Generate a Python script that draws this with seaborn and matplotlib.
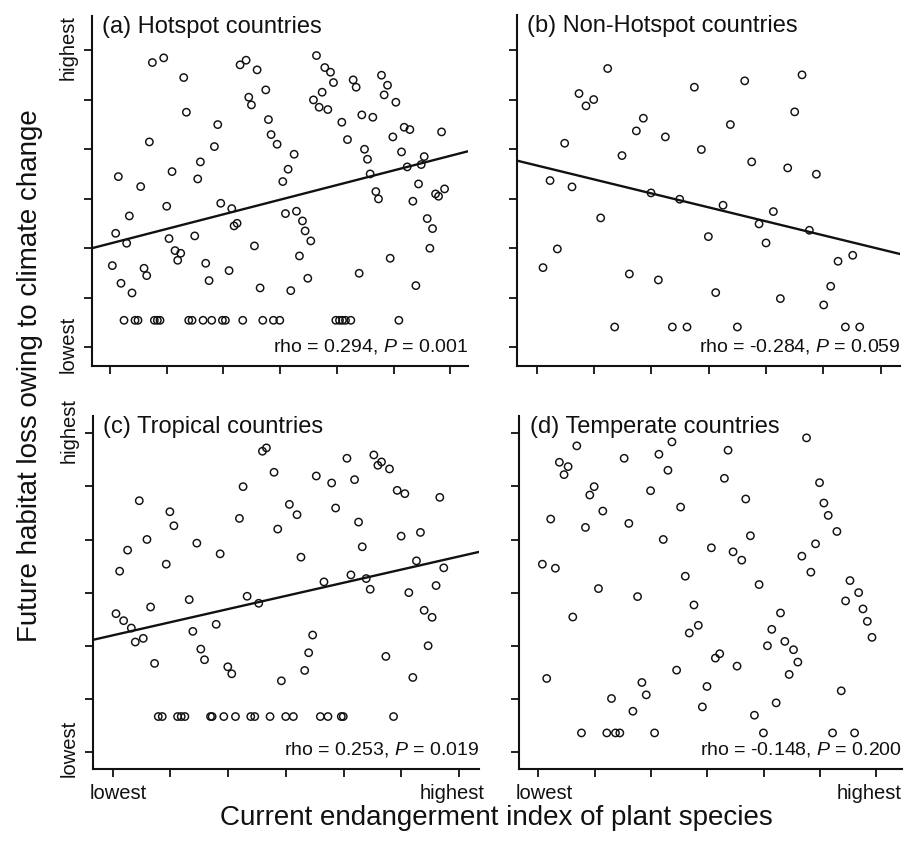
import matplotlib
matplotlib.use("Agg")
import matplotlib.pyplot as plt
import matplotlib.transforms as mtransforms
import seaborn as sns
import pandas as pd

# ---------------- data (index units: 0 = lowest ... 6 = highest) ----------------
a_x = [0.147, 0.100, 0.294, 0.041, 0.194, 0.388, 0.341, 0.541, 0.694, 0.747, 0.947, 0.600, 0.647,
       1.000, 1.094, 1.041, 1.147, 1.247, 1.194, 1.300, 1.347, 1.494, 1.547, 1.594, 1.688, 1.747,
       1.841, 1.900, 1.953, 2.100, 2.147, 2.188, 2.241, 2.294, 2.400, 2.447, 2.494, 2.547, 2.594,
       2.647, 2.747, 2.794, 2.841, 2.947, 3.047, 3.094, 3.141, 3.188, 3.247, 3.288, 3.341, 3.394,
       3.441, 3.488, 3.541, 3.588, 3.641, 3.688, 3.741, 3.788, 3.841, 3.888, 3.941, 4.088, 4.188,
       4.288, 4.341, 4.394, 4.441, 4.488, 4.541, 4.588, 4.635, 4.688, 4.735, 4.788, 4.835, 4.894,
       4.941, 4.988, 5.041, 5.141, 5.188, 5.241, 5.288, 5.341, 5.394, 5.441, 5.488, 5.541, 5.594,
       5.641, 5.688, 5.741, 5.794, 5.847, 5.900,
       0.247, 0.441, 0.494, 0.782, 0.835, 0.882, 1.388, 1.447, 1.641, 1.794, 1.982, 2.035, 2.341,
       2.694, 2.882, 2.994, 3.982, 4.047, 4.100, 4.153, 4.247, 5.094]
a_y = [3.445, 2.301, 2.100, 1.649, 1.292, 1.097, 2.651, 3.244, 4.145, 5.747, 5.841, 1.595, 1.447,
       2.847, 3.546, 2.194, 1.952, 1.898, 1.756, 5.444, 4.744, 2.248, 3.398, 3.742, 1.696, 1.346,
       4.051, 4.495, 2.907, 1.548, 2.799, 2.450, 2.503, 5.700, 5.794, 5.047, 4.892, 2.046, 5.599,
       1.198, 5.195, 4.596, 4.293, 4.098, 3.345, 2.699, 3.594, 1.144, 3.896, 2.746, 1.844, 2.550,
       2.349, 1.393, 2.147, 4.993, 5.888, 4.845, 5.148, 5.646, 4.798, 5.552, 5.343, 4.542, 4.192,
       5.397, 5.249, 1.494, 4.690, 3.997, 3.795, 3.499, 4.643, 3.143, 2.995, 5.491, 5.094, 5.289,
       1.797, 4.246, 4.946, 3.943, 4.441, 3.641, 4.394, 2.948, 1.245, 3.297, 3.688, 3.849, 2.598,
       1.999, 2.396, 3.096, 3.048, 4.347, 3.197,
       0.545, 0.545, 0.545, 0.545, 0.545, 0.545, 0.545, 0.545, 0.545, 0.545, 0.545, 0.545, 0.545,
       0.545, 0.545, 0.545, 0.545, 0.545, 0.545, 0.545, 0.545, 0.545]

b_x = [0.110, 0.233, 0.360, 0.488, 0.616, 0.738, 0.860, 0.994, 1.116, 1.238, 1.360, 1.488, 1.616,
       1.738, 1.860, 1.994, 2.122, 2.244, 2.366, 2.494, 2.622, 2.750, 2.872, 2.994, 3.122, 3.250,
       3.378, 3.500, 3.628, 3.750, 3.878, 4.000, 4.128, 4.250, 4.378, 4.500, 4.628, 4.756, 4.878,
       5.006, 5.128, 5.256, 5.384, 5.512, 5.634]
b_y = [1.608, 3.365, 1.985, 4.118, 3.237, 5.121, 4.872, 5.000, 2.611, 5.626, 0.410, 3.869, 1.480,
       4.367, 4.623, 3.116, 1.359, 4.246, 0.410, 2.988, 0.410, 5.249, 3.991, 2.234, 1.104, 2.867,
       4.495, 0.410, 5.377, 3.742, 2.490, 2.106, 2.739, 0.983, 3.620, 4.751, 5.498, 2.362, 3.493,
       0.855, 1.232, 1.736, 0.410, 1.857, 0.410]

c_x = [0.058, 0.121, 0.190, 0.259, 0.323, 0.392, 0.461, 0.530, 0.594, 0.657, 0.726, 0.928, 0.991,
       1.061, 1.326, 1.389, 1.458, 1.527, 1.591, 1.793, 1.862, 1.994, 2.063, 2.196, 2.259, 2.329,
       2.530, 2.594, 2.663, 2.795, 2.859, 2.922, 3.061, 3.193, 3.262, 3.326, 3.395, 3.464, 3.527,
       3.660, 3.793, 3.862, 4.058, 4.127, 4.190, 4.259, 4.323, 4.392, 4.461, 4.524, 4.594, 4.657,
       4.732, 4.795, 4.928, 4.997, 5.061, 5.130, 5.199, 5.262, 5.331, 5.395, 5.464, 5.533, 5.602,
       5.666, 5.735,
       0.790, 0.859, 1.124, 1.187, 1.251, 1.695, 1.723, 1.925, 2.127, 2.392, 2.461, 2.726, 2.997,
       3.130, 3.597, 3.729, 3.960, 3.994, 4.865]
c_y = [2.602, 3.403, 2.470, 3.800, 2.331, 2.067, 4.732, 2.136, 4.001, 2.728, 1.664, 3.535, 4.524,
       4.260, 2.867, 2.268, 3.932, 1.934, 1.733, 2.401, 3.730, 1.600, 1.468, 4.398, 4.997, 2.930,
       2.798, 5.665, 5.728, 5.268, 4.197, 1.336, 4.663, 4.468, 3.667, 1.531, 1.865, 2.199, 5.198,
       3.201, 5.066, 4.594, 5.532, 3.333, 5.129, 4.329, 3.863, 3.264, 3.062, 5.595, 5.400, 5.463,
       1.796, 5.331, 4.927, 4.064, 4.865, 2.999, 1.399, 3.598, 4.134, 2.665, 1.997, 2.533, 3.132,
       4.795, 3.466,
       0.662, 0.662, 0.662, 0.662, 0.662, 0.662, 0.662, 0.662, 0.662, 0.662, 0.662, 0.662, 0.662,
       0.662, 0.662, 0.662, 0.662, 0.662, 0.662]

d_x = [0.071, 0.148, 0.219, 0.302, 0.373, 0.456, 0.528, 0.611, 0.682, 0.765, 0.836, 0.913, 0.990,
       1.067, 1.144, 1.215, 1.298, 1.369, 1.446, 1.523, 1.606, 1.678, 1.761, 1.838, 1.915, 1.992,
       2.063, 2.140, 2.217, 2.300, 2.371, 2.454, 2.525, 2.608, 2.679, 2.762, 2.839, 2.911, 2.993,
       3.071, 3.142, 3.219, 3.302, 3.367, 3.456, 3.527, 3.610, 3.681, 3.764, 3.835, 3.918, 3.995,
       4.066, 4.143, 4.221, 4.298, 4.375, 4.452, 4.529, 4.606, 4.677, 4.760, 4.837, 4.920, 4.991,
       5.068, 5.145, 5.222, 5.299, 5.376, 5.453, 5.531, 5.613, 5.685, 5.762, 5.839, 5.922]
d_y = [3.535, 1.380, 4.386, 3.459, 5.457, 5.224, 5.375, 2.539, 5.766, 0.353, 4.228, 4.839, 4.997,
       3.075, 4.537, 0.353, 1.002, 0.353, 0.353, 5.532, 4.304, 0.762, 2.924, 1.304, 1.071, 4.921,
       0.353, 5.608, 4.001, 5.306, 5.841, 1.537, 4.612, 3.308, 2.237, 2.766, 2.382, 0.844, 1.229,
       3.844, 1.764, 1.846, 5.154, 5.684, 3.768, 1.613, 3.611, 4.764, 4.071, 0.687, 3.151, 0.353,
       1.997, 2.306, 0.920, 2.615, 2.079, 1.456, 1.922, 1.689, 3.686, 5.917, 3.384, 3.919, 5.072,
       4.688, 4.455, 0.353, 4.152, 1.147, 2.842, 3.226, 0.353, 2.999, 2.691, 2.457, 2.155]

# fitted lines: [intercept, slope]
fit_a = [2.094, 0.295]
fit_b = [3.67, -0.282]
fit_c = [2.193, 0.248]
fit_d = None

titles = ["(a) Hotspot countries", "(b) Non-Hotspot countries",
          "(c) Tropical countries", "(d) Temperate countries"]
rho_vals = ["0.294", "-0.284", "0.253", "-0.148"]
p_vals = ["0.001", "0.059", "0.019", "0.200"]
tick_pos = [0, 1, 2, 3, 4, 5, 6]
end_labels = ["lowest", "highest"]
x_title = "Current endangerment index of plant species"
y_title = "Future habitat loss owing to climate change"

# ---------------- styling ----------------
sns.set_theme(style="ticks")
plt.rcParams["font.family"] = ["Liberation Sans", "DejaVu Sans"]
plt.rcParams["mathtext.fontset"] = "custom"
plt.rcParams["mathtext.it"] = "Liberation Sans:italic"
plt.rcParams["mathtext.rm"] = "Liberation Sans"

fig = plt.figure(figsize=(9.06, 8.47), dpi=100)

panels = [
    dict(x=a_x, y=a_y, fit=fit_a, rect=[0.1012, 0.5679, 0.4154, 0.4132],
         xlim=(-0.323, 6.314), ylim=(-0.377, 6.686), xl=False, yl=True),
    dict(x=b_x, y=b_y, fit=fit_b, rect=[0.5703, 0.5679, 0.4231, 0.4144],
         xlim=(-0.349, 6.337), ylim=(-0.377, 6.706), xl=False, yl=False),
    dict(x=c_x, y=c_y, fit=fit_c, rect=[0.1023, 0.0921, 0.4267, 0.4168],
         xlim=(-0.346, 6.350), ylim=(-0.327, 6.330), xl=True, yl=True),
    dict(x=d_x, y=d_y, fit=fit_d, rect=[0.5732, 0.0921, 0.4221, 0.4168],
         xlim=(-0.338, 6.450), ylim=(-0.327, 6.330), xl=True, yl=False),
]


def shift(lab, dx, dy):
    lab.set_transform(lab.get_transform() +
                      mtransforms.ScaledTranslation(dx / 100, dy / 100, fig.dpi_scale_trans))


for i, p in enumerate(panels):
    ax = fig.add_axes(p["rect"])
    df = pd.DataFrame({"x": p["x"], "y": p["y"]})
    sns.scatterplot(data=df, x="x", y="y", ax=ax, marker="o", s=28,
                    facecolor="none", edgecolor="#111111", linewidth=1.05, zorder=3)
    ax.set_xlim(*p["xlim"])
    ax.set_ylim(*p["ylim"])
    if p["fit"] is not None:
        b0, b1 = p["fit"]
        ax.axline((0, b0), slope=b1, color="#111111", linewidth=1.7, zorder=2)
    ax.set_xticks(tick_pos)
    ax.set_yticks(tick_pos)
    ax.tick_params(axis="both", direction="out", length=6, width=1.3,
                   color="#111111", labelsize=14.5, labelcolor="#111111", pad=4)
    ax.tick_params(axis="x", pad=5)
    if p["xl"]:
        ax.set_xticklabels([end_labels[0], "", "", "", "", "", end_labels[1]])
        xlabs = ax.get_xticklabels()
        shift(xlabs[0], 6, 0)
        shift(xlabs[-1], -7, 0)
    else:
        ax.set_xticklabels([])
    if p["yl"]:
        ax.set_yticklabels([end_labels[0], "", "", "", "", "", end_labels[1]],
                           rotation=90, va="center")
        ylabs = ax.get_yticklabels()
        shift(ylabs[0], 0, 3)
        shift(ylabs[-1], 0, 3)
    else:
        ax.set_yticklabels([])
    for s in ["top", "right"]:
        ax.spines[s].set_visible(False)
    for s in ["left", "bottom"]:
        ax.spines[s].set_linewidth(1.5)
        ax.spines[s].set_color("#111111")
    ax.set_xlabel("")
    ax.set_ylabel("")
    ax.text(0.027, 1.0, titles[i], transform=ax.transAxes, ha="left", va="top",
            fontsize=17, color="#111111")
    ax.text(1.0, 0.028, "rho = " + rho_vals[i] + ", $\\it{P}$ = " + p_vals[i],
            transform=ax.transAxes, ha="right", va="bottom", fontsize=14, color="#111111")

fig.text(0.548, 0.034, x_title, ha="center", va="center", fontsize=20, color="#111111")
fig.text(0.033, 0.557, y_title, ha="center", va="center", rotation=90,
         fontsize=20, color="#111111")

fig.savefig("out.png", dpi=100, facecolor="white")
